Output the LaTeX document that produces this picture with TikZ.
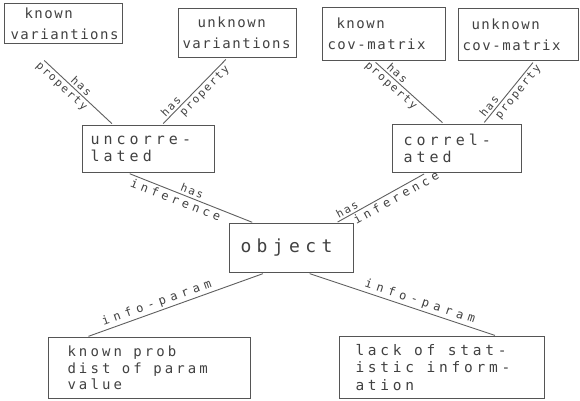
\documentclass[tikz,border=0pt]{standalone}
\usepackage{fontspec}
\newfontfamily\dm{DejaVu Sans Mono}
\usetikzlibrary{calc}
\newcommand\fnt[3]{\dm\fontsize{#1}{#2}\selectfont\addfontfeature{LetterSpace=#3}}
\newcommand\gap[1]{\hspace*{#1}}
\definecolor{boxc}{RGB}{85,85,85}
\definecolor{txtc}{RGB}{65,65,65}
\definecolor{linec}{RGB}{95,95,95}
\tikzset{
  box/.style={draw=boxc, line width=1pt, rectangle, anchor=north west, align=left,
    text=txtc, inner ysep=0pt,
    execute at begin node={\hyphenpenalty=10000 \exhyphenpenalty=10000 }},
  topfont/.style={font=\fnt{14}{21}{11}},
  lbl/.style={sloped, text=txtc, inner sep=0.5pt, font=\fnt{11}{13}{16}},
  lblw/.style={sloped, text=txtc, inner sep=0.5pt, font=\fnt{12}{14}{32}},
  conn/.style={draw=linec, line width=0.9pt, shorten <=2pt, shorten >=2pt},
}
\begin{document}
\begin{tikzpicture}[x=1pt,y=1pt]
\fill[white] (0,0) rectangle (580,-400);
\useasboundingbox (0,0) rectangle (580,-400);

% top row
\node[box, topfont, minimum width=118pt, minimum height=40pt, inner xsep=6pt, text width=106pt] (kv) at (4,-3) {\hspace*{14pt}known\\variantions};
\node[box, topfont, minimum width=118pt, minimum height=49pt, inner xsep=4pt, text width=110pt] (uv) at (178,-8) {\hspace*{15pt}unknown\\variantions};
\node[box, topfont, minimum width=123pt, minimum height=53pt, inner xsep=5pt, text width=113pt] (kc) at (322,-7) {\hspace*{9pt}known\\cov-matrix};
\node[box, topfont, minimum width=120pt, minimum height=52pt, inner xsep=4pt, text width=112pt] (uc) at (458,-8) {\hspace*{9pt}unknown\\cov-matrix};

% middle row
\node[box, font=\fnt{15}{16.5}{27}, minimum width=132pt, minimum height=47pt, inner xsep=8pt, text width=116pt] (unc) at (82,-125) {uncorre-\\lated};
\node[box, font=\fnt{15}{16.5}{27}, minimum width=129pt, minimum height=48pt, inner xsep=11pt, text width=107pt] (cor) at (392,-124) {correl-\\ated};

% object
\node[box, font=\fnt{18}{20}{30}, minimum width=124pt, minimum height=49pt, inner xsep=11pt, text width=102pt] (obj) at (229,-223) {object};

% bottom row
\node[box, font=\fnt{14}{16.5}{22}, minimum width=202pt, minimum height=61pt, inner xsep=19pt, text width=164pt] (kp) at (48,-337) {known\gap{11.5pt}prob\\dist\gap{11.5pt}of\gap{11.5pt}param\\value};
\node[box, font=\fnt{14.5}{17.5}{26}, minimum width=205pt, minimum height=62pt, inner xsep=16pt, text width=173pt] (lack) at (339,-336) {lack\gap{12.5pt}of\gap{12.5pt}stat-\\istic\gap{12.5pt}inform-\\ation};

% connectors
\draw[conn, shorten <=24pt] ($(kv.south west)!0.19!(kv.south east)$) --
  node[lbl, above=1.5pt, pos=0.58]{has}
  node[lbl, below=1.5pt, pos=0.46]{property}
  ($(unc.north west)!0.236!(unc.north east)$);
\draw[conn] ($(unc.north west)!0.60!(unc.north east)$) --
  node[lbl, above=1.5pt, pos=0.21]{has}
  node[lbl, below=1.5pt, pos=0.58]{property}
  ($(uv.south west)!0.414!(uv.south east)$);
\draw[conn] ($(kc.south west)!0.42!(kc.south east)$) --
  node[lbl, above=1.5pt, pos=0.27]{has}
  node[lbl, below=1.5pt, pos=0.31]{property}
  ($(cor.north west)!0.40!(cor.north east)$);
\draw[conn] ($(cor.north west)!0.70!(cor.north east)$) --
  node[lbl, above=1.5pt, pos=0.22]{has}
  node[lbl, below=1.5pt, pos=0.58]{property}
  ($(uc.south west)!0.63!(uc.south east)$);
\draw[conn] ($(unc.south west)!0.345!(unc.south east)$) --
  node[lbl, above=1.5pt, pos=0.49]{has}
  node[lblw, below=1.5pt, pos=0.40]{inference}
  ($(obj.north west)!0.20!(obj.north east)$);
\draw[conn] ($(obj.north west)!0.855!(obj.north east)$) --
  node[lbl, above=1.5pt, pos=0.16]{has}
  node[lblw, below=1.5pt, pos=0.63]{inference}
  ($(cor.south west)!0.26!(cor.south east)$);
\draw[conn] ($(kp.north west)!0.19!(kp.north east)$) --
  node[lblw, above=1.5pt, pos=0.41, font=\fnt{12}{14}{40}]{info-param}
  ($(obj.south west)!0.286!(obj.south east)$);
\draw[conn] ($(obj.south west)!0.63!(obj.south east)$) --
  node[lblw, above=1.5pt, pos=0.58, font=\fnt{12}{14}{40}]{info-param}
  ($(lack.north west)!0.766!(lack.north east)$);
\end{tikzpicture}
\end{document}
